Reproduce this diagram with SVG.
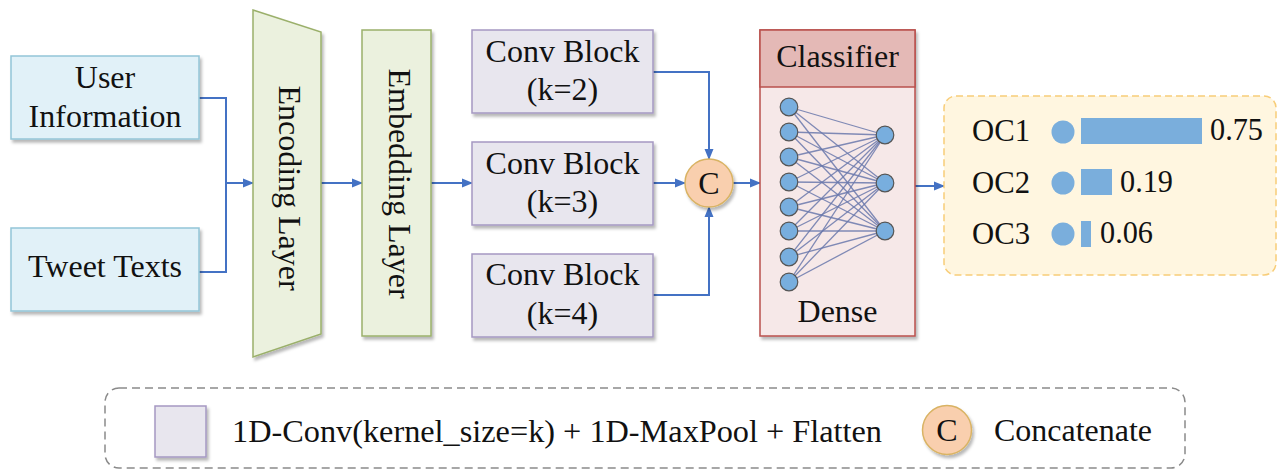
<svg xmlns="http://www.w3.org/2000/svg" width="1277" height="470" viewBox="0 0 1277 470">
<defs>
  <marker id="arr" markerWidth="11" markerHeight="10" refX="10" refY="5" orient="auto" markerUnits="userSpaceOnUse">
    <path d="M0,0.5 L11,5 L0,9.5 Z" fill="#4472c4"/>
  </marker>
  <filter id="sh" x="-10%" y="-10%" width="125%" height="125%">
    <feDropShadow dx="2" dy="3" stdDeviation="1.8" flood-color="#000" flood-opacity="0.28"/>
  </filter>
</defs>
<style>
  text { font-family: "Liberation Serif", "Times New Roman", serif; fill: #111; }
  .t { font-size: 32px; text-anchor: middle; }
  .inp { fill: #e1f1f8; stroke: #93c5d7; stroke-width: 1.5; }
  .lay { fill: #ebf1de; stroke: #9bb06b; stroke-width: 1.5; }
  .conv { fill: #e8e6ee; stroke: #a598c2; stroke-width: 1.5; }
  .cat { fill: #f9cfae; stroke: #d9b364; stroke-width: 1.5; }
  .con { fill: none; stroke: #4472c4; stroke-width: 2; }
  .nn { stroke: #6a78ab; stroke-width: 1.3; stroke-opacity: 0.85; }
  .node { fill: #78aede; stroke: #555; stroke-width: 1.2; }
  .oc { font-size: 32px; }
  .bar { fill: #7aaedc; }
</style>

<g id="connectors">
  <path class="con" d="M199,98 H226 V272 H199"/>
  <path class="con" d="M226,183 H253" marker-end="url(#arr)"/>
  <path class="con" d="M321,183 H362" marker-end="url(#arr)"/>
  <path class="con" d="M431,183 H472" marker-end="url(#arr)"/>
  <path class="con" d="M653,72 H709 V159" marker-end="url(#arr)"/>
  <path class="con" d="M653,183 H685" marker-end="url(#arr)"/>
  <path class="con" d="M653,295 H709 V207" marker-end="url(#arr)"/>
  <path class="con" d="M733,183 H760" marker-end="url(#arr)"/>
  <path class="con" d="M915,186 H944" marker-end="url(#arr)"/>
</g>

<g id="user-information">
  <rect class="inp" x="11" y="56" width="188" height="83" filter="url(#sh)"/>
  <text class="t" x="105" y="88">User</text>
  <text class="t" x="105" y="127">Information</text>
</g>
<g id="tweet-texts">
  <rect class="inp" x="11" y="228" width="188" height="83" filter="url(#sh)"/>
  <text class="t" x="105" y="277">Tweet Texts</text>
</g>

<g id="encoding-layer">
  <polygon class="lay" points="253,10 321,32 321,334 253,357" filter="url(#sh)"/>
  <text class="t" font-size="34" transform="translate(279,188) rotate(90)">Encoding Layer</text>
</g>
<g id="embedding-layer">
  <rect class="lay" x="362" y="30" width="69" height="306" filter="url(#sh)"/>
  <text class="t" font-size="34" transform="translate(388.5,183.5) rotate(90)">Embedding Layer</text>
</g>

<g id="conv-k2">
  <rect class="conv" x="472" y="30" width="181" height="83" filter="url(#sh)"/>
  <text class="t" x="562.5" y="62">Conv Block</text>
  <text class="t" x="562.5" y="100">(k=2)</text>
</g>
<g id="conv-k3">
  <rect class="conv" x="472" y="142" width="181" height="83" filter="url(#sh)"/>
  <text class="t" x="562.5" y="173.5">Conv Block</text>
  <text class="t" x="562.5" y="212">(k=3)</text>
</g>
<g id="conv-k4">
  <rect class="conv" x="472" y="254" width="181" height="83" filter="url(#sh)"/>
  <text class="t" x="562.5" y="285">Conv Block</text>
  <text class="t" x="562.5" y="323.5">(k=4)</text>
</g>

<g id="concatenate">
  <circle class="cat" cx="709" cy="183" r="24" filter="url(#sh)"/>
  <text class="t" x="709" y="194">C</text>
</g>

<g id="classifier">
  <rect x="760" y="30" width="155" height="306" fill="#f6e8e8" stroke="#b9504c" stroke-width="1.5" filter="url(#sh)"/>
  <rect x="760" y="30" width="155" height="57" fill="#e4b9b6" stroke="#b9504c" stroke-width="1.5"/>
  <text class="t" x="837.5" y="67">Classifier</text>
  <g>
    <line class="nn" x1="789" y1="107" x2="885" y2="135"/><line class="nn" x1="789" y1="107" x2="885" y2="183"/><line class="nn" x1="789" y1="107" x2="885" y2="231"/>
    <line class="nn" x1="789" y1="132" x2="885" y2="135"/><line class="nn" x1="789" y1="132" x2="885" y2="183"/><line class="nn" x1="789" y1="132" x2="885" y2="231"/>
    <line class="nn" x1="789" y1="157" x2="885" y2="135"/><line class="nn" x1="789" y1="157" x2="885" y2="183"/><line class="nn" x1="789" y1="157" x2="885" y2="231"/>
    <line class="nn" x1="789" y1="182" x2="885" y2="135"/><line class="nn" x1="789" y1="182" x2="885" y2="183"/><line class="nn" x1="789" y1="182" x2="885" y2="231"/>
    <line class="nn" x1="789" y1="207" x2="885" y2="135"/><line class="nn" x1="789" y1="207" x2="885" y2="183"/><line class="nn" x1="789" y1="207" x2="885" y2="231"/>
    <line class="nn" x1="789" y1="231" x2="885" y2="135"/><line class="nn" x1="789" y1="231" x2="885" y2="183"/><line class="nn" x1="789" y1="231" x2="885" y2="231"/>
    <line class="nn" x1="789" y1="257" x2="885" y2="135"/><line class="nn" x1="789" y1="257" x2="885" y2="183"/><line class="nn" x1="789" y1="257" x2="885" y2="231"/>
    <line class="nn" x1="789" y1="282" x2="885" y2="135"/><line class="nn" x1="789" y1="282" x2="885" y2="183"/><line class="nn" x1="789" y1="282" x2="885" y2="231"/>
  </g>
  <g>
    <circle class="node" cx="789" cy="107" r="8.8"/>
    <circle class="node" cx="789" cy="132" r="8.8"/>
    <circle class="node" cx="789" cy="157" r="8.8"/>
    <circle class="node" cx="789" cy="182" r="8.8"/>
    <circle class="node" cx="789" cy="207" r="8.8"/>
    <circle class="node" cx="789" cy="231" r="8.8"/>
    <circle class="node" cx="789" cy="257" r="8.8"/>
    <circle class="node" cx="789" cy="282" r="8.8"/>
    <circle class="node" cx="885" cy="135" r="8.8"/>
    <circle class="node" cx="885" cy="183" r="8.8"/>
    <circle class="node" cx="885" cy="231" r="8.8"/>
  </g>
  <text class="t" x="837.5" y="322">Dense</text>
</g>

<g id="output">
  <rect x="944" y="96" width="332" height="179" rx="12" fill="#fff6e0" stroke="#f8cd78" stroke-width="1.5" stroke-dasharray="7,4"/>
  <text class="oc" x="972" y="141" textLength="58" lengthAdjust="spacingAndGlyphs">OC1</text>
  <text class="oc" x="972" y="192.5" textLength="58" lengthAdjust="spacingAndGlyphs">OC2</text>
  <text class="oc" x="972" y="244" textLength="58" lengthAdjust="spacingAndGlyphs">OC3</text>
  <circle class="bar" cx="1063" cy="132" r="11.5"/>
  <circle class="bar" cx="1063" cy="183" r="11.5"/>
  <circle class="bar" cx="1063" cy="234" r="11.5"/>
  <rect class="bar" x="1081" y="118" width="121" height="26"/>
  <rect class="bar" x="1081" y="169" width="31" height="26"/>
  <rect class="bar" x="1081" y="221" width="10" height="26"/>
  <text class="oc" x="1210" y="140" textLength="53" lengthAdjust="spacingAndGlyphs">0.75</text>
  <text class="oc" x="1120" y="191.5" textLength="53" lengthAdjust="spacingAndGlyphs">0.19</text>
  <text class="oc" x="1100" y="243" textLength="53" lengthAdjust="spacingAndGlyphs">0.06</text>
</g>

<g id="legend">
  <rect x="105" y="388" width="1080" height="80" rx="14" fill="none" stroke="#8a8a8a" stroke-width="1.5" stroke-dasharray="8,5"/>
  <rect class="conv" x="155" y="406" width="51" height="51" filter="url(#sh)"/>
  <text x="232" y="442" font-size="32" textLength="650" lengthAdjust="spacingAndGlyphs">1D-Conv(kernel_size=k) + 1D-MaxPool + Flatten</text>
  <circle class="cat" cx="947" cy="430" r="24.5" filter="url(#sh)"/>
  <text class="t" x="947" y="441">C</text>
  <text x="994" y="441" font-size="32" textLength="158" lengthAdjust="spacingAndGlyphs">Concatenate</text>
</g>
</svg>
